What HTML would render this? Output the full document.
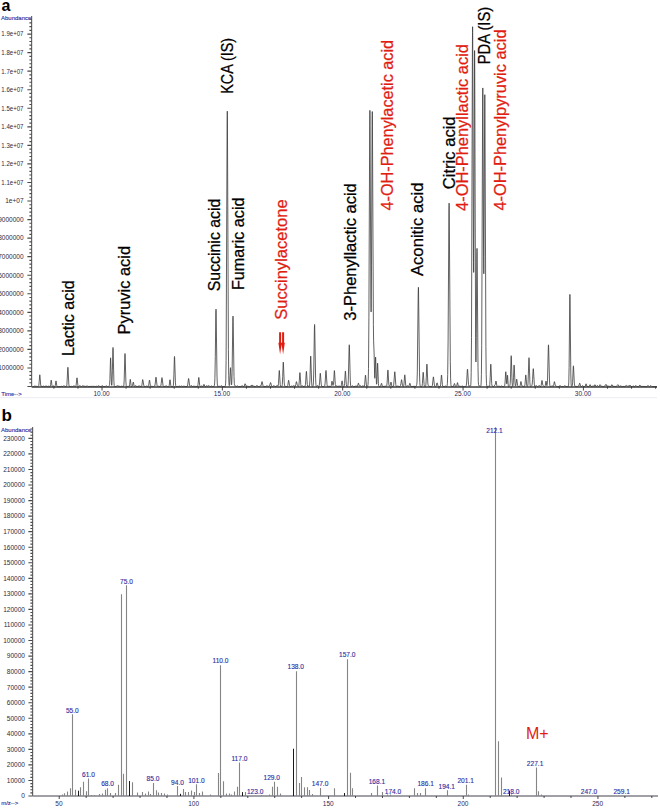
<!DOCTYPE html>
<html><head><meta charset="utf-8">
<style>
html,body{margin:0;padding:0;background:#fff;}
svg{display:block;}
text{font-family:"Liberation Sans", sans-serif;}
.pl{font-weight:bold;font-size:17px;fill:#000;}
.sm{font-size:6px;stroke-width:0.12px;}
.bl{fill:#2c2ca0;stroke:#2c2ca0;}
.tl{font-size:6.5px;fill:#2b2b40;text-anchor:end;}
.tx{font-size:6.5px;fill:#2b2b5a;text-anchor:middle;}
.lb{font-size:16.2px;stroke-width:0.25px;}
.bv{font-size:6.6px;fill:#2c2ca0;stroke:#2c2ca0;stroke-width:0.12px;text-anchor:middle;}
.mp{font-size:16px;fill:#e11d12;}
</style></head>
<body>
<svg width="660" height="808" viewBox="0 0 660 808">
<rect width="660" height="808" fill="#fff"/>
<text class="pl" x="1.5" y="10.8" style="font-size:16px">a</text>
<text class="sm bl" x="1" y="19.8">Abundance</text>
<line x1="31.6" y1="16.0" x2="31.6" y2="386.5" stroke="#666" stroke-width="1.2"/>
<path d="M27.4 386.5H31.6 M29.4 382.79H31.6 M29.4 379.08H31.6 M29.4 375.37H31.6 M29.4 371.66H31.6 M27.4 367.95H31.6 M29.4 364.24H31.6 M29.4 360.53H31.6 M29.4 356.82H31.6 M29.4 353.11H31.6 M27.4 349.4H31.6 M29.4 345.69H31.6 M29.4 341.98H31.6 M29.4 338.27H31.6 M29.4 334.56H31.6 M27.4 330.85H31.6 M29.4 327.14H31.6 M29.4 323.43H31.6 M29.4 319.72H31.6 M29.4 316.01H31.6 M27.4 312.3H31.6 M29.4 308.59H31.6 M29.4 304.88H31.6 M29.4 301.17H31.6 M29.4 297.46H31.6 M27.4 293.75H31.6 M29.4 290.04H31.6 M29.4 286.33H31.6 M29.4 282.62H31.6 M29.4 278.91H31.6 M27.4 275.2H31.6 M29.4 271.49H31.6 M29.4 267.78H31.6 M29.4 264.07H31.6 M29.4 260.36H31.6 M27.4 256.65H31.6 M29.4 252.94H31.6 M29.4 249.23H31.6 M29.4 245.52H31.6 M29.4 241.81H31.6 M27.4 238.1H31.6 M29.4 234.39H31.6 M29.4 230.68H31.6 M29.4 226.97H31.6 M29.4 223.26H31.6 M27.4 219.55H31.6 M29.4 215.84H31.6 M29.4 212.13H31.6 M29.4 208.42H31.6 M29.4 204.71H31.6 M27.4 201H31.6 M29.4 197.29H31.6 M29.4 193.58H31.6 M29.4 189.87H31.6 M29.4 186.16H31.6 M27.4 182.45H31.6 M29.4 178.74H31.6 M29.4 175.03H31.6 M29.4 171.32H31.6 M29.4 167.61H31.6 M27.4 163.9H31.6 M29.4 160.19H31.6 M29.4 156.48H31.6 M29.4 152.77H31.6 M29.4 149.06H31.6 M27.4 145.35H31.6 M29.4 141.64H31.6 M29.4 137.93H31.6 M29.4 134.22H31.6 M29.4 130.51H31.6 M27.4 126.8H31.6 M29.4 123.09H31.6 M29.4 119.38H31.6 M29.4 115.67H31.6 M29.4 111.96H31.6 M27.4 108.25H31.6 M29.4 104.54H31.6 M29.4 100.83H31.6 M29.4 97.12H31.6 M29.4 93.41H31.6 M27.4 89.7H31.6 M29.4 85.99H31.6 M29.4 82.28H31.6 M29.4 78.57H31.6 M29.4 74.86H31.6 M27.4 71.15H31.6 M29.4 67.44H31.6 M29.4 63.73H31.6 M29.4 60.02H31.6 M29.4 56.31H31.6 M27.4 52.6H31.6 M29.4 48.89H31.6 M29.4 45.18H31.6 M29.4 41.47H31.6 M29.4 37.76H31.6 M27.4 34.05H31.6 M29.4 30.34H31.6 M29.4 26.63H31.6 M29.4 22.92H31.6 M29.4 19.21H31.6" stroke="#484848" stroke-width="1.15" fill="none"/>
<text class="tl" x="23.5" y="370.3">1000000</text>
<text class="tl" x="23.5" y="351.75">2000000</text>
<text class="tl" x="23.5" y="333.2">3000000</text>
<text class="tl" x="23.5" y="314.65">4000000</text>
<text class="tl" x="23.5" y="296.1">5000000</text>
<text class="tl" x="23.5" y="277.55">6000000</text>
<text class="tl" x="23.5" y="259">7000000</text>
<text class="tl" x="23.5" y="240.45">8000000</text>
<text class="tl" x="23.5" y="221.9">9000000</text>
<text class="tl" x="23.5" y="203.35">1e+07</text>
<text class="tl" x="23.5" y="184.8" textLength="22.2" lengthAdjust="spacingAndGlyphs">1.1e+07</text>
<text class="tl" x="23.5" y="166.25" textLength="22.2" lengthAdjust="spacingAndGlyphs">1.2e+07</text>
<text class="tl" x="23.5" y="147.7" textLength="22.2" lengthAdjust="spacingAndGlyphs">1.3e+07</text>
<text class="tl" x="23.5" y="129.15" textLength="22.2" lengthAdjust="spacingAndGlyphs">1.4e+07</text>
<text class="tl" x="23.5" y="110.6" textLength="22.2" lengthAdjust="spacingAndGlyphs">1.5e+07</text>
<text class="tl" x="23.5" y="92.05" textLength="22.2" lengthAdjust="spacingAndGlyphs">1.6e+07</text>
<text class="tl" x="23.5" y="73.5" textLength="22.2" lengthAdjust="spacingAndGlyphs">1.7e+07</text>
<text class="tl" x="23.5" y="54.95" textLength="22.2" lengthAdjust="spacingAndGlyphs">1.8e+07</text>
<text class="tl" x="23.5" y="36.4" textLength="22.2" lengthAdjust="spacingAndGlyphs">1.9e+07</text>
<line x1="31.6" y1="387.0" x2="657.0" y2="387.0" stroke="#3c3c3c" stroke-width="1.4"/>
<path d="M53.86 386.5v2.2 M77.93 386.5v2.2 M102 386.5v4.0 M126.07 386.5v2.2 M150.14 386.5v2.2 M174.21 386.5v2.2 M198.28 386.5v2.2 M222.35 386.5v4.0 M246.42 386.5v2.2 M270.49 386.5v2.2 M294.56 386.5v2.2 M318.63 386.5v2.2 M342.7 386.5v4.0 M366.77 386.5v2.2 M390.84 386.5v2.2 M414.91 386.5v2.2 M438.98 386.5v2.2 M463.05 386.5v4.0 M487.12 386.5v2.2 M511.19 386.5v2.2 M535.26 386.5v2.2 M559.33 386.5v2.2 M583.4 386.5v4.0 M607.47 386.5v2.2 M631.54 386.5v2.2 M655.61 386.5v2.2" stroke="#333" stroke-width="0.9" fill="none"/>
<text class="tx" x="101.6" y="396.4">10.00</text>
<text class="tx" x="221.95" y="396.4">15.00</text>
<text class="tx" x="342.3" y="396.4">20.00</text>
<text class="tx" x="462.65" y="396.4">25.00</text>
<text class="tx" x="583" y="396.4">30.00</text>
<text class="sm bl" x="1.2" y="395.8">Time--&gt;</text>
<line x1="0" y1="397.7" x2="657" y2="397.7" stroke="#ececf2" stroke-width="1"/>
<path d="M32.60 386.60 L33.90 386.50 L34.60 386.08 L37.80 386.52 L38.40 386.25 L38.60 385.99 L38.80 385.36 L39.20 381.64 L39.70 375.07 L39.80 374.79 L39.90 375.08 L40.70 384.97 L40.90 385.93 L41.10 386.29 L42.90 386.55 L43.70 385.98 L44.00 386.09 L44.60 386.53 L46.10 385.98 L47.30 386.51 L48.50 386.18 L49.80 386.58 L50.10 386.45 L50.30 386.08 L50.60 384.49 L51.10 380.30 L51.20 380.10 L51.30 380.30 L52.00 385.70 L52.20 386.26 L52.40 386.40 L53.20 385.83 L54.40 386.57 L54.80 386.53 L55.00 386.35 L55.30 385.37 L55.90 381.08 L56.00 380.90 L56.10 381.08 L56.80 385.82 L57.00 386.32 L57.30 386.50 L60.40 386.52 L61.10 386.26 L63.00 386.55 L63.90 385.60 L64.10 385.64 L64.80 386.49 L66.30 386.56 L66.50 386.43 L66.70 386.01 L66.90 384.87 L67.80 367.63 L67.90 367.23 L68.00 367.77 L68.80 384.04 L69.10 386.06 L69.30 386.45 L70.90 386.48 L71.50 386.36 L72.90 386.55 L73.90 385.73 L74.20 385.82 L75.00 386.53 L75.60 386.52 L75.80 386.33 L76.10 385.35 L76.90 378.01 L77.00 377.83 L77.10 378.07 L77.90 385.43 L78.20 386.35 L78.50 386.52 L79.10 386.21 L79.70 385.63 L80.00 385.66 L81.00 386.52 L81.70 386.44 L82.50 385.83 L86.10 386.56 L87.10 385.69 L87.30 385.71 L88.10 386.51 L92.40 386.34 L95.70 386.48 L96.50 386.26 L97.40 386.46 L98.40 385.75 L98.80 385.85 L99.90 386.57 L101.30 386.50 L102.10 385.57 L102.30 385.54 L103.20 386.52 L105.30 386.50 L106.20 385.83 L106.50 385.86 L107.50 386.55 L108.60 386.41 L109.20 385.79 L109.40 385.36 L109.60 384.32 L109.90 379.47 L110.50 358.59 L110.60 357.80 L110.70 358.75 L111.40 382.66 L111.60 385.04 L111.70 385.36 L111.80 385.19 L112.00 383.29 L112.40 370.72 L112.90 348.49 L113.00 347.47 L113.10 348.37 L113.90 381.34 L114.20 385.50 L114.40 386.30 L114.70 386.57 L116.10 386.45 L117.10 385.77 L120.70 386.55 L121.70 386.12 L123.20 386.59 L123.50 386.47 L123.70 386.09 L123.90 384.94 L124.20 379.80 L124.90 354.35 L125.00 353.52 L125.10 354.30 L125.90 381.94 L126.20 385.54 L126.40 386.27 L126.70 386.55 L128.30 386.30 L129.00 386.54 L129.20 386.43 L129.40 386.02 L129.70 384.23 L130.20 379.52 L130.30 379.30 L130.40 379.52 L131.10 385.61 L131.30 386.27 L131.50 386.50 L132.00 386.41 L132.40 385.92 L133.20 382.16 L133.30 382.05 L133.40 382.21 L134.10 385.99 L134.40 386.49 L134.80 386.52 L135.60 385.54 L135.80 385.60 L136.40 386.45 L137.90 386.49 L139.00 385.85 L141.10 386.59 L141.40 386.50 L141.60 386.26 L141.90 385.20 L142.60 379.84 L142.70 379.60 L142.80 379.66 L143.80 385.48 L144.20 386.34 L145.60 386.52 L146.70 386.04 L148.00 386.53 L148.30 386.40 L148.60 385.72 L149.40 380.26 L149.50 380.10 L149.60 380.26 L150.40 385.72 L150.70 386.39 L151.00 386.46 L151.60 386.25 L153.30 386.55 L154.70 385.98 L154.90 385.57 L155.30 382.99 L155.80 377.83 L155.90 377.29 L156.00 377.10 L156.10 377.29 L157.00 385.31 L157.30 386.23 L157.50 386.36 L158.10 386.14 L160.10 386.57 L160.50 386.35 L160.80 385.77 L161.20 383.60 L161.80 378.13 L161.90 377.70 L162.00 377.59 L162.20 378.37 L163.00 385.41 L163.30 386.30 L165.00 386.55 L166.10 385.72 L166.40 385.81 L167.30 386.55 L168.80 386.53 L169.00 386.32 L169.20 385.72 L169.90 379.95 L170.00 379.72 L170.10 379.93 L170.80 385.70 L171.00 386.31 L171.30 386.57 L172.90 386.54 L173.10 386.35 L173.30 385.72 L173.50 384.03 L173.90 374.25 L174.40 357.27 L174.50 356.49 L174.60 357.15 L175.40 382.17 L175.70 385.55 L175.90 386.26 L176.20 386.54 L178.30 386.48 L179.10 386.01 L180.30 386.57 L180.70 386.48 L181.30 385.81 L181.50 385.79 L182.20 386.51 L183.00 386.49 L183.60 386.19 L186.00 386.55 L186.80 386.36 L187.20 386.37 L187.40 386.13 L187.70 385.01 L188.50 378.64 L188.60 378.44 L188.70 378.56 L189.60 385.35 L189.90 386.23 L190.10 386.38 L190.50 386.15 L191.10 385.54 L191.40 385.63 L192.30 386.51 L193.70 386.16 L195.80 386.51 L197.50 386.34 L197.70 386.07 L198.00 384.68 L198.70 377.62 L198.80 377.40 L198.90 377.62 L199.70 385.35 L200.00 386.34 L200.40 386.57 L201.70 385.93 L202.80 386.53 L203.10 386.39 L203.90 384.36 L204.00 384.30 L204.20 384.58 L204.80 386.28 L205.30 386.59 L205.90 386.50 L206.70 385.58 L206.90 385.65 L207.50 386.42 L207.80 386.45 L208.70 385.48 L208.90 385.47 L209.90 386.51 L210.50 386.52 L211.20 385.86 L211.40 385.92 L212.10 386.56 L213.60 386.49 L214.10 386.04 L214.40 385.26 L214.60 383.99 L214.90 378.56 L215.30 356.75 L215.80 314.97 L215.90 310.63 L216.00 309.16 L216.10 310.73 L217.00 376.14 L217.30 383.97 L217.50 385.74 L217.70 386.35 L217.90 386.51 L219.00 386.15 L220.10 386.56 L220.70 386.28 L221.30 385.66 L221.60 385.69 L222.50 386.52 L224.90 386.52 L225.20 386.21 L225.40 385.54 L225.60 383.79 L225.80 379.39 L226.10 360.74 L227.10 128.82 L227.20 115.71 L227.30 111.20 L227.40 115.71 L228.40 349.32 L228.70 375.78 L228.90 382.51 L229.10 385.08 L229.20 385.56 L229.30 385.70 L229.40 385.57 L229.60 384.46 L230.40 368.14 L230.50 367.67 L230.60 368.33 L231.30 383.79 L231.40 384.63 L231.50 384.95 L231.60 384.74 L231.80 382.53 L232.10 372.64 L232.80 321.52 L232.90 317.49 L233.00 316.09 L233.10 317.48 L234.00 376.53 L234.30 383.34 L234.50 384.82 L235.50 386.34 L236.20 386.56 L237.30 385.88 L238.40 386.56 L241.00 386.47 L242.10 385.71 L243.60 386.54 L244.00 386.46 L244.30 386.02 L244.90 383.98 L245.00 383.80 L245.10 383.75 L245.30 384.02 L246.30 386.12 L249.50 386.54 L250.30 386.04 L251.00 386.36 L251.20 386.30 L251.90 384.95 L252.00 384.89 L252.20 385.06 L252.70 385.96 L255.50 386.56 L256.80 385.52 L257.10 385.56 L258.20 386.52 L259.30 386.47 L260.30 385.75 L260.90 385.84 L261.10 385.62 L261.90 381.79 L262.00 381.60 L262.10 381.62 L263.00 385.53 L263.60 386.39 L265.90 386.53 L266.90 385.66 L267.20 385.77 L268.00 386.52 L268.60 386.48 L269.80 385.00 L270.50 382.63 L270.60 382.56 L270.80 382.97 L271.50 386.06 L271.80 386.49 L272.80 386.54 L273.80 385.46 L274.00 385.46 L274.90 386.50 L275.90 386.51 L277.00 385.47 L277.30 385.53 L277.90 386.10 L278.00 386.08 L278.20 385.66 L278.50 383.28 L279.20 370.90 L279.30 370.46 L279.40 370.81 L280.20 384.34 L280.50 386.12 L280.70 386.47 L281.70 386.56 L281.90 386.41 L282.10 385.90 L282.30 384.53 L282.70 376.53 L283.20 362.68 L283.30 362.07 L283.40 362.64 L284.20 382.33 L284.50 384.99 L284.90 386.22 L285.30 386.56 L287.20 386.55 L287.50 386.29 L287.80 385.33 L288.50 380.44 L288.60 380.21 L288.70 380.27 L289.60 385.79 L289.90 386.40 L290.90 386.57 L291.80 385.86 L292.10 385.99 L292.60 386.44 L292.90 386.41 L293.80 385.45 L294.00 385.45 L294.90 386.41 L295.20 386.41 L295.40 386.17 L295.80 384.58 L296.30 381.78 L296.40 381.63 L296.50 381.70 L297.30 384.89 L298.30 386.35 L298.50 386.39 L298.70 386.17 L298.90 385.41 L299.30 380.84 L299.80 372.94 L299.90 372.60 L300.00 372.94 L300.80 384.70 L301.00 385.87 L301.20 386.30 L301.40 386.31 L302.00 385.60 L302.20 385.61 L303.00 386.52 L304.10 386.51 L305.10 385.96 L305.30 385.56 L305.50 384.39 L306.30 371.67 L306.40 371.30 L306.50 371.67 L307.30 384.52 L307.60 386.12 L307.80 386.38 L308.70 386.15 L309.20 386.29 L309.40 386.04 L309.60 385.06 L309.90 380.45 L310.60 356.99 L310.70 356.12 L310.80 356.72 L311.60 382.16 L311.90 385.62 L312.10 386.32 L312.40 386.56 L312.80 386.49 L313.00 386.19 L313.20 385.28 L313.40 382.97 L313.70 374.06 L314.40 329.14 L314.50 325.65 L314.60 324.47 L314.70 325.75 L315.60 378.21 L315.90 384.48 L316.10 385.90 L316.30 386.39 L316.50 386.49 L316.90 386.26 L317.50 385.53 L317.70 385.49 L318.60 386.44 L318.90 386.46 L319.10 386.21 L319.30 385.46 L319.70 381.09 L320.20 373.52 L320.30 373.18 L320.40 373.48 L321.20 384.07 L321.60 385.97 L321.90 386.45 L323.90 386.53 L324.60 385.90 L324.80 385.39 L325.10 383.28 L325.80 371.64 L325.90 370.72 L326.00 370.40 L326.10 370.72 L327.00 384.41 L327.30 386.05 L327.60 386.50 L329.10 386.25 L330.70 386.57 L331.00 386.36 L331.30 385.41 L331.90 381.26 L332.00 381.08 L332.10 381.22 L332.70 384.93 L332.90 385.44 L333.00 385.51 L333.20 385.34 L333.40 384.61 L333.70 381.51 L334.30 370.97 L334.40 370.59 L334.50 370.99 L335.30 384.40 L335.50 385.72 L335.70 386.20 L335.90 386.27 L336.70 385.84 L337.90 386.52 L338.30 386.41 L338.90 385.86 L339.10 385.86 L340.00 386.56 L340.80 386.48 L341.10 386.08 L341.40 384.89 L341.90 381.31 L342.00 380.94 L342.10 380.87 L342.30 381.68 L342.90 385.86 L343.20 386.47 L343.80 386.56 L344.10 386.33 L344.30 385.75 L344.60 383.30 L345.30 371.36 L345.40 370.96 L345.50 371.30 L346.30 384.23 L346.60 386.01 L346.90 386.49 L347.40 386.56 L347.60 386.44 L347.80 386.07 L348.00 385.03 L348.30 380.59 L349.10 347.77 L349.20 345.50 L349.30 344.78 L349.40 345.70 L350.30 381.00 L350.60 385.19 L350.80 386.14 L351.00 386.46 L351.40 386.50 L352.30 385.72 L352.60 385.80 L353.40 386.52 L355.00 386.43 L356.00 385.92 L357.10 386.44 L357.40 386.27 L357.80 385.16 L358.30 383.17 L358.40 383.08 L358.50 383.16 L359.20 385.53 L359.40 385.76 L360.10 385.52 L361.40 386.48 L362.90 385.84 L364.00 386.44 L364.20 386.37 L364.40 386.00 L364.70 384.23 L365.40 375.38 L365.50 375.10 L365.60 375.38 L366.40 385.03 L366.60 385.98 L366.80 386.32 L367.60 386.14 L367.80 385.81 L368.00 384.68 L368.20 381.58 L368.50 368.45 L368.90 317.75 L369.70 125.38 L369.80 114.24 L369.90 110.37 L370.00 114.07 L370.90 299.47 L371.00 308.71 L371.10 311.91 L371.20 308.93 L371.50 265.79 L372.10 126.32 L372.20 115.35 L372.30 111.55 L372.40 115.28 L373.40 324.65 L373.60 340.84 L374.10 352.91 L374.70 377.34 L374.80 378.30 L374.90 377.69 L375.50 357.98 L375.60 357.09 L375.70 358.00 L376.40 382.33 L376.50 383.69 L376.60 384.23 L376.70 384.01 L376.90 381.31 L377.50 363.86 L377.60 363.15 L377.70 363.86 L378.40 383.36 L378.60 385.52 L378.80 386.31 L379.10 386.57 L380.30 386.54 L380.60 386.29 L381.40 383.37 L381.50 383.26 L381.60 383.35 L382.30 386.03 L382.60 386.46 L386.30 386.17 L386.60 385.93 L386.80 385.40 L387.10 382.93 L387.80 370.36 L387.90 369.97 L388.00 370.38 L388.80 384.13 L389.00 385.41 L389.20 385.86 L389.90 385.85 L390.10 385.70 L390.40 384.80 L390.90 382.15 L391.00 382.04 L391.10 382.20 L391.80 385.99 L392.10 386.50 L393.10 386.53 L393.40 386.23 L393.70 385.09 L394.70 372.00 L394.80 371.75 L394.90 372.08 L395.80 384.61 L396.10 386.10 L396.40 386.51 L397.00 386.50 L397.70 386.06 L399.70 386.58 L400.00 386.45 L400.40 385.75 L400.90 383.76 L401.50 379.80 L401.60 379.66 L401.70 379.85 L402.50 385.67 L402.80 386.40 L403.20 386.56 L403.50 386.39 L403.70 385.90 L404.00 383.85 L404.60 375.68 L404.70 374.98 L404.80 374.81 L405.00 376.06 L405.70 385.04 L406.00 386.26 L406.20 386.46 L406.60 386.36 L407.30 385.78 L408.30 386.40 L408.70 386.21 L409.20 385.29 L409.80 383.33 L409.90 383.22 L410.00 383.26 L410.80 386.18 L411.10 386.52 L414.70 386.34 L415.50 386.55 L415.90 386.33 L416.60 385.16 L416.80 384.31 L417.00 382.14 L417.30 372.99 L418.20 293.77 L418.30 289.00 L418.40 287.31 L418.50 288.87 L419.50 372.81 L419.80 382.51 L420.10 385.68 L420.30 386.30 L421.60 386.57 L421.90 386.38 L422.10 385.89 L422.40 383.70 L423.10 372.62 L423.20 372.21 L423.30 372.51 L424.10 384.61 L424.40 386.18 L424.70 386.54 L425.30 386.56 L425.50 386.42 L425.70 385.96 L425.90 384.70 L426.30 377.35 L426.80 364.62 L426.90 364.06 L427.00 364.59 L427.80 382.96 L428.10 385.20 L429.00 386.37 L431.80 386.53 L432.10 386.27 L432.40 385.29 L433.30 377.08 L433.40 376.87 L433.50 377.04 L434.40 385.17 L434.70 386.21 L435.10 386.55 L435.90 386.52 L436.20 386.13 L436.90 383.06 L437.00 382.86 L437.10 382.84 L438.20 386.26 L438.60 386.57 L440.00 386.56 L440.20 386.42 L440.40 386.02 L440.70 384.22 L441.40 375.28 L441.50 374.98 L441.60 375.23 L442.40 384.79 L442.70 386.09 L443.10 386.50 L444.70 386.48 L445.50 386.06 L446.60 386.51 L446.80 386.46 L447.00 386.19 L447.20 385.38 L447.40 383.29 L447.70 374.55 L448.10 340.87 L448.90 213.11 L449.00 205.73 L449.10 203.20 L449.20 205.72 L450.30 361.31 L450.60 378.17 L450.90 384.40 L451.10 385.83 L451.30 386.36 L453.10 386.55 L453.50 386.23 L454.40 383.50 L454.50 383.47 L454.70 383.90 L455.30 386.19 L455.60 386.50 L456.50 386.18 L456.80 385.58 L457.40 382.71 L457.50 382.59 L457.60 382.72 L458.30 385.98 L458.50 386.27 L459.50 386.12 L461.20 386.57 L462.20 385.90 L463.20 386.57 L465.90 386.42 L466.10 386.20 L466.30 385.54 L466.60 382.98 L467.30 370.34 L467.40 369.42 L467.50 369.14 L467.60 369.56 L468.50 384.27 L468.80 385.90 L469.00 386.19 L470.00 385.94 L470.40 386.04 L470.60 385.81 L470.80 384.71 L471.00 381.24 L471.20 372.38 L471.50 337.65 L472.40 49.54 L472.50 32.53 L472.60 26.71 L472.70 32.60 L473.50 262.61 L473.60 272.42 L473.70 271.60 L473.90 238.70 L474.50 56.79 L474.60 50.56 L474.70 57.39 L475.60 337.43 L475.80 359.02 L475.90 361.98 L476.00 360.45 L476.30 333.31 L476.80 258.96 L476.90 251.10 L477.00 248.38 L477.10 251.13 L478.00 367.78 L478.30 381.60 L478.50 384.61 L478.70 385.54 L478.90 385.71 L479.40 385.77 L480.40 386.46 L480.60 386.44 L480.80 386.15 L481.00 385.11 L481.20 382.11 L481.40 374.63 L481.70 345.67 L482.60 107.06 L482.70 92.90 L482.80 87.95 L482.90 92.59 L483.60 256.23 L483.70 269.09 L483.80 273.76 L483.90 269.89 L484.70 99.11 L484.80 94.69 L484.90 99.66 L485.90 346.62 L486.20 374.58 L486.50 383.73 L486.70 385.60 L486.90 386.28 L487.20 386.55 L488.40 386.29 L489.20 386.54 L489.40 386.42 L489.60 385.96 L489.80 384.70 L490.20 377.35 L490.70 364.65 L490.80 364.10 L490.90 364.65 L491.70 383.50 L491.90 385.33 L492.10 385.99 L493.40 386.51 L495.00 385.18 L495.30 384.29 L495.90 381.09 L496.00 381.00 L496.20 381.57 L496.90 385.85 L497.20 386.44 L497.90 386.55 L498.80 386.12 L500.70 386.57 L501.60 385.95 L502.80 386.59 L504.10 386.44 L504.40 386.20 L504.70 385.45 L505.00 383.11 L505.70 372.03 L505.80 371.72 L505.90 372.12 L506.60 383.14 L506.70 383.76 L506.80 383.79 L507.00 382.03 L507.40 375.53 L507.50 375.09 L507.60 375.55 L508.20 385.04 L508.40 386.18 L508.60 386.51 L509.10 386.49 L509.70 385.82 L510.00 384.99 L510.20 383.40 L510.50 377.12 L511.10 356.44 L511.20 355.69 L511.30 356.45 L512.10 382.42 L512.40 385.70 L512.60 386.27 L512.70 386.31 L512.90 385.96 L513.10 384.78 L513.50 377.75 L514.00 365.53 L514.10 364.96 L514.20 365.43 L515.00 383.22 L515.30 385.66 L515.50 386.07 L515.60 386.05 L515.80 385.55 L516.60 379.34 L516.70 379.13 L516.80 379.29 L517.60 385.53 L517.90 386.36 L519.40 386.54 L519.90 386.21 L520.20 385.53 L520.90 381.56 L521.00 381.46 L521.20 382.11 L521.70 385.40 L521.90 385.96 L524.20 386.58 L524.50 386.42 L524.70 386.00 L525.00 384.15 L525.70 375.16 L525.80 374.92 L525.90 375.24 L526.70 385.04 L527.00 386.26 L527.20 386.48 L527.40 386.48 L527.60 386.27 L527.80 385.59 L528.00 383.88 L528.90 358.32 L529.00 357.67 L529.10 358.42 L529.90 382.71 L530.20 385.78 L530.40 386.37 L530.70 386.54 L531.30 386.25 L531.90 385.33 L532.20 384.11 L532.60 379.37 L533.10 369.97 L533.20 368.98 L533.30 368.65 L533.40 369.03 L534.30 384.18 L534.60 385.99 L534.80 386.39 L535.10 386.51 L535.60 386.13 L536.10 385.54 L536.30 385.56 L537.20 386.52 L538.20 386.54 L538.60 386.18 L539.10 385.43 L539.30 385.49 L540.00 386.49 L540.60 386.55 L540.90 386.29 L541.20 385.32 L541.90 380.55 L542.00 380.40 L542.10 380.55 L542.80 385.04 L543.00 385.52 L543.50 385.82 L544.10 386.51 L544.80 386.54 L545.00 386.36 L545.30 385.41 L545.90 381.27 L546.00 381.10 L546.10 381.27 L546.70 385.26 L546.80 385.59 L546.90 385.72 L547.00 385.62 L547.20 384.64 L547.50 380.13 L548.30 347.76 L548.40 345.53 L548.50 344.84 L548.60 345.77 L549.50 381.01 L549.80 385.19 L550.00 386.14 L550.20 386.47 L551.10 386.55 L552.00 385.59 L552.20 385.67 L552.80 386.45 L553.10 386.50 L553.30 386.35 L553.60 385.59 L554.30 381.77 L554.40 381.63 L554.50 381.72 L555.30 385.33 L556.80 386.53 L558.90 386.52 L559.90 385.61 L560.10 385.59 L561.20 386.54 L563.60 386.50 L564.60 385.73 L564.90 385.78 L566.00 386.56 L567.70 386.43 L568.20 386.50 L568.40 386.24 L568.60 385.18 L568.80 381.96 L569.10 367.64 L569.80 296.70 L569.90 294.42 L570.00 296.63 L570.80 373.89 L571.10 383.81 L571.30 385.77 L571.50 386.38 L571.70 386.53 L571.90 386.50 L572.10 386.28 L572.30 385.56 L572.60 382.37 L573.30 366.40 L573.40 365.82 L573.50 366.24 L574.30 383.03 L574.60 385.46 L574.90 386.24 L577.40 386.55 L578.20 385.90 L578.60 386.07 L578.80 385.97 L579.60 383.19 L579.70 383.10 L579.80 383.19 L580.60 386.13 L580.90 386.50 L581.60 386.49 L582.50 385.67 L582.80 385.74 L583.70 386.54 L584.90 386.55 L585.20 386.31 L586.00 383.85 L586.10 383.83 L586.90 386.31 L588.90 386.56 L589.20 386.37 L590.00 384.65 L590.10 384.63 L591.00 386.40 L592.20 386.56 L593.10 385.70 L593.30 385.70 L593.90 386.36 L594.10 386.37 L594.40 385.97 L594.90 384.76 L595.00 384.70 L595.20 384.92 L595.80 386.34 L596.10 386.53 L596.50 386.42 L597.30 385.46 L597.50 385.44 L598.50 386.51 L599.00 386.52 L599.30 386.22 L599.90 384.75 L600.10 384.59 L601.30 386.34 L603.80 386.51 L605.30 385.56 L605.90 384.36 L606.00 384.32 L606.20 384.60 L606.70 385.90 L610.30 386.54 L611.10 386.01 L611.80 384.78 L611.90 384.70 L612.00 384.70 L612.80 386.26 L616.20 386.53 L617.20 385.56 L617.80 384.63 L617.90 384.61 L618.10 384.80 L618.80 386.37 L619.20 386.53 L620.20 385.89 L622.40 386.57 L624.00 386.33 L624.90 386.49 L626.20 385.43 L626.60 385.61 L627.30 386.24 L628.40 385.95 L629.10 386.25 L629.40 386.02 L629.90 385.14 L630.00 385.09 L630.20 385.27 L630.80 386.40 L632.30 386.54 L633.20 385.95 L634.40 386.59 L635.00 386.47 L635.70 385.52 L635.90 385.47 L636.70 386.48 L638.80 386.49 L639.30 386.03 L639.80 385.14 L640.00 385.07 L640.80 386.41 L646.80 386.51 L647.90 385.52 L648.20 385.62 L649.10 386.49 L649.60 386.50 L650.60 385.51 L650.80 385.55 L651.70 386.49 L656.90 386.60" stroke="#3a3a3a" stroke-width="0.8" fill="none" stroke-linejoin="round"/>
<text class="lb" transform="translate(73.5 356.1) rotate(-90)" textLength="75.9" lengthAdjust="spacingAndGlyphs" fill="#000" stroke="#000">Lactic acid</text>
<text class="lb" transform="translate(130.2 334.4) rotate(-90)" textLength="88.4" lengthAdjust="spacingAndGlyphs" fill="#000" stroke="#000">Pyruvic acid</text>
<text class="lb" transform="translate(220.1 291.2) rotate(-90)" textLength="92.5" lengthAdjust="spacingAndGlyphs" fill="#000" stroke="#000">Succinic acid</text>
<text class="lb" transform="translate(243.5 290) rotate(-90)" textLength="92.5" lengthAdjust="spacingAndGlyphs" fill="#000" stroke="#000">Fumaric acid</text>
<text class="lb" transform="translate(232.8 93.8) rotate(-90)" textLength="55.8" lengthAdjust="spacingAndGlyphs" fill="#000" stroke="#000">KCA (IS)</text>
<text class="lb" transform="translate(287.2 319.8) rotate(-90)" textLength="120.5" lengthAdjust="spacingAndGlyphs" fill="#e11d12" stroke="#e11d12">Succinylacetone</text>
<text class="lb" transform="translate(356.4 320.7) rotate(-90)" textLength="137.5" lengthAdjust="spacingAndGlyphs" fill="#000" stroke="#000">3-Phenyllactic acid</text>
<text class="lb" transform="translate(392.9 210.5) rotate(-90)" textLength="170.6" lengthAdjust="spacingAndGlyphs" fill="#e11d12" stroke="#e11d12">4-OH-Phenylacetic acid</text>
<text class="lb" transform="translate(423.2 276.1) rotate(-90)" textLength="93.6" lengthAdjust="spacingAndGlyphs" fill="#000" stroke="#000">Aconitic acid</text>
<text class="lb" transform="translate(454.5 189.2) rotate(-90)" textLength="72.8" lengthAdjust="spacingAndGlyphs" fill="#000" stroke="#000">Citric acid</text>
<text class="lb" transform="translate(468 210.9) rotate(-90)" textLength="166.8" lengthAdjust="spacingAndGlyphs" fill="#e11d12" stroke="#e11d12">4-OH-Phenyllactic acid</text>
<text class="lb" transform="translate(489.7 64.3) rotate(-90)" textLength="57.6" lengthAdjust="spacingAndGlyphs" fill="#000" stroke="#000">PDA (IS)</text>
<text class="lb" transform="translate(505.7 210.6) rotate(-90)" textLength="181.1" lengthAdjust="spacingAndGlyphs" fill="#e11d12" stroke="#e11d12">4-OH-Phenylpyruvic acid</text>
<path d="M279.1 332.2 H281.1 V342.6 L281.8 342.9 L280.1 354.2 L278.4 342.9 L279.1 342.6 Z M282.1 332.2 H284.1 V342.6 L284.8 342.9 L283.1 354.2 L281.4 342.9 L282.1 342.6 Z" fill="#e11d12"/>
<text class="pl" x="1.5" y="421.4">b</text>
<text class="sm bl" x="1" y="432.3">Abundance</text>
<line x1="32.6" y1="427.0" x2="32.6" y2="796.0" stroke="#666" stroke-width="1.2"/>
<path d="M28.4 796H32.6 M30.4 792.89H32.6 M30.4 789.78H32.6 M30.4 786.67H32.6 M30.4 783.56H32.6 M28.4 780.45H32.6 M30.4 777.34H32.6 M30.4 774.23H32.6 M30.4 771.12H32.6 M30.4 768.01H32.6 M28.4 764.9H32.6 M30.4 761.79H32.6 M30.4 758.68H32.6 M30.4 755.57H32.6 M30.4 752.46H32.6 M28.4 749.35H32.6 M30.4 746.24H32.6 M30.4 743.13H32.6 M30.4 740.02H32.6 M30.4 736.91H32.6 M28.4 733.8H32.6 M30.4 730.69H32.6 M30.4 727.58H32.6 M30.4 724.47H32.6 M30.4 721.36H32.6 M28.4 718.25H32.6 M30.4 715.14H32.6 M30.4 712.03H32.6 M30.4 708.92H32.6 M30.4 705.81H32.6 M28.4 702.7H32.6 M30.4 699.59H32.6 M30.4 696.48H32.6 M30.4 693.37H32.6 M30.4 690.26H32.6 M28.4 687.15H32.6 M30.4 684.04H32.6 M30.4 680.93H32.6 M30.4 677.82H32.6 M30.4 674.71H32.6 M28.4 671.6H32.6 M30.4 668.49H32.6 M30.4 665.38H32.6 M30.4 662.27H32.6 M30.4 659.16H32.6 M28.4 656.05H32.6 M30.4 652.94H32.6 M30.4 649.83H32.6 M30.4 646.72H32.6 M30.4 643.61H32.6 M28.4 640.5H32.6 M30.4 637.39H32.6 M30.4 634.28H32.6 M30.4 631.17H32.6 M30.4 628.06H32.6 M28.4 624.95H32.6 M30.4 621.84H32.6 M30.4 618.73H32.6 M30.4 615.62H32.6 M30.4 612.51H32.6 M28.4 609.4H32.6 M30.4 606.29H32.6 M30.4 603.18H32.6 M30.4 600.07H32.6 M30.4 596.96H32.6 M28.4 593.85H32.6 M30.4 590.74H32.6 M30.4 587.63H32.6 M30.4 584.52H32.6 M30.4 581.41H32.6 M28.4 578.3H32.6 M30.4 575.19H32.6 M30.4 572.08H32.6 M30.4 568.97H32.6 M30.4 565.86H32.6 M28.4 562.75H32.6 M30.4 559.64H32.6 M30.4 556.53H32.6 M30.4 553.42H32.6 M30.4 550.31H32.6 M28.4 547.2H32.6 M30.4 544.09H32.6 M30.4 540.98H32.6 M30.4 537.87H32.6 M30.4 534.76H32.6 M28.4 531.65H32.6 M30.4 528.54H32.6 M30.4 525.43H32.6 M30.4 522.32H32.6 M30.4 519.21H32.6 M28.4 516.1H32.6 M30.4 512.99H32.6 M30.4 509.88H32.6 M30.4 506.77H32.6 M30.4 503.66H32.6 M28.4 500.55H32.6 M30.4 497.44H32.6 M30.4 494.33H32.6 M30.4 491.22H32.6 M30.4 488.11H32.6 M28.4 485H32.6 M30.4 481.89H32.6 M30.4 478.78H32.6 M30.4 475.67H32.6 M30.4 472.56H32.6 M28.4 469.45H32.6 M30.4 466.34H32.6 M30.4 463.23H32.6 M30.4 460.12H32.6 M30.4 457.01H32.6 M28.4 453.9H32.6 M30.4 450.79H32.6 M30.4 447.68H32.6 M30.4 444.57H32.6 M30.4 441.46H32.6 M28.4 438.35H32.6 M30.4 435.24H32.6 M30.4 432.13H32.6 M30.4 429.02H32.6" stroke="#484848" stroke-width="1.15" fill="none"/>
<text class="tl" x="24.9" y="798.35">0</text>
<text class="tl" x="24.9" y="782.8">10000</text>
<text class="tl" x="24.9" y="767.25">20000</text>
<text class="tl" x="24.9" y="751.7">30000</text>
<text class="tl" x="24.9" y="736.15">40000</text>
<text class="tl" x="24.9" y="720.6">50000</text>
<text class="tl" x="24.9" y="705.05">60000</text>
<text class="tl" x="24.9" y="689.5">70000</text>
<text class="tl" x="24.9" y="673.95">80000</text>
<text class="tl" x="24.9" y="658.4">90000</text>
<text class="tl" x="24.9" y="642.85">100000</text>
<text class="tl" x="24.9" y="627.3">110000</text>
<text class="tl" x="24.9" y="611.75">120000</text>
<text class="tl" x="24.9" y="596.2">130000</text>
<text class="tl" x="24.9" y="580.65">140000</text>
<text class="tl" x="24.9" y="565.1">150000</text>
<text class="tl" x="24.9" y="549.55">160000</text>
<text class="tl" x="24.9" y="534">170000</text>
<text class="tl" x="24.9" y="518.45">180000</text>
<text class="tl" x="24.9" y="502.9">190000</text>
<text class="tl" x="24.9" y="487.35">200000</text>
<text class="tl" x="24.9" y="471.8">210000</text>
<text class="tl" x="24.9" y="456.25">220000</text>
<text class="tl" x="24.9" y="440.7">230000</text>
<line x1="32.6" y1="796.0" x2="658.0" y2="796.0" stroke="#808088" stroke-width="1.6"/>
<path d="M59.23 796v3.0 M86.17 796v2.0 M113.1 796v2.0 M140.04 796v2.0 M166.97 796v2.0 M193.91 796v3.0 M220.85 796v2.0 M247.78 796v2.0 M274.72 796v2.0 M301.65 796v2.0 M328.59 796v3.0 M355.53 796v2.0 M382.46 796v2.0 M409.4 796v2.0 M436.33 796v2.0 M463.27 796v3.0 M490.21 796v2.0 M517.14 796v2.0 M544.08 796v2.0 M571.01 796v2.0 M597.95 796v3.0 M624.89 796v2.0 M651.82 796v2.0" stroke="#333" stroke-width="0.9" fill="none"/>
<text class="tx" x="58.93" y="805.5">50</text>
<text class="tx" x="193.61" y="805.5">100</text>
<text class="tx" x="328.29" y="805.5">150</text>
<text class="tx" x="462.97" y="805.5">200</text>
<text class="tx" x="597.65" y="805.5">250</text>
<text class="sm bl" x="1.2" y="805.4">m/z--&gt;</text>
<path d="M62.5 796V794.5 M64.5 796V793.3 M67.5 796V791.5 M70.5 796V788.2 M72.5 796V714.3 M75.5 796V789.7 M80.5 796V787.3 M83.5 796V781.8 M86.5 796V791.2 M88.5 796V778.5 M91.5 796V795 M94.5 796V795 M99.5 796V794 M102.5 796V793.5 M105.5 796V789.7 M107.5 796V788.2 M110.5 796V793 M115.5 796V793 M118.5 796V784.8 M121.5 796V594.2 M123.5 796V773.7 M126.5 796V585.2 M132.5 796V782.2 M137.5 796V792.4 M142.5 796V792.1 M145.5 796V793.5 M148.5 796V791.5 M150.5 796V794 M153.5 796V783 M156.5 796V790.3 M158.5 796V792.5 M161.5 796V793 M164.5 796V793.5 M167.5 796V794.5 M177.5 796V786.1 M183.5 796V789.1 M185.5 796V792 M188.5 796V792 M191.5 796V790.5 M194.5 796V792 M196.5 796V784.2 M199.5 796V793 M202.5 796V791.5 M210.5 796V794.5 M218.5 796V773 M220.5 796V665.2 M223.5 796V781.2 M226.5 796V793.5 M229.5 796V793.5 M231.5 796V794.5 M234.5 796V791.5 M237.5 796V786.7 M239.5 796V762.4 M245.5 796V792 M261.5 796V795 M269.5 796V794.5 M272.5 796V786.7 M274.5 796V781.8 M277.5 796V786.7 M280.5 796V793.5 M296.5 796V671.3 M299.5 796V783 M301.5 796V777 M304.5 796V787.3 M307.5 796V787.3 M309.5 796V790 M312.5 796V794 M320.5 796V787.9 M334.5 796V788.2 M347.5 796V659.2 M350.5 796V772.7 M352.5 796V788.2 M371.5 796V793 M377.5 796V785.5 M382.5 796V792 M387.5 796V794.5 M390.5 796V794.5 M414.5 796V788.2 M417.5 796V793 M420.5 796V793 M425.5 796V788.2 M447.5 796V790.3 M466.5 796V784.8 M468.5 796V794.5 M495.5 796V427.3 M498.5 796V741.2 M501.5 796V777.5 M511.5 796V794.5 M536.5 796V767.6 M538.5 796V791.2 M541.5 796V794.5" stroke="#858585" stroke-width="1.1" fill="none"/>
<path d="M78.5 796V790.7 M129.5 796V781 M180.5 796V793.8 M242.5 796V792.1 M293.5 796V748.7 M344.5 796V793 M509.5 796V790.6" stroke="#1a1a1a" stroke-width="1" fill="none"/>
<text class="bv" x="72.3" y="712.8">55.0</text>
<text class="bv" x="88.5" y="776.8">61.0</text>
<text class="bv" x="107.6" y="786.2">68.0</text>
<text class="bv" x="126.5" y="583.7">75.0</text>
<text class="bv" x="153" y="781.1">85.0</text>
<text class="bv" x="177.5" y="784.5">94.0</text>
<text class="bv" x="196.4" y="782.5">101.0</text>
<text class="bv" x="220.5" y="662.9">110.0</text>
<text class="bv" x="239.4" y="760.5">117.0</text>
<text class="bv" x="255.2" y="793.8">123.0</text>
<text class="bv" x="271.8" y="780.1">129.0</text>
<text class="bv" x="295.8" y="669.2">138.0</text>
<text class="bv" x="320.1" y="785.7">147.0</text>
<text class="bv" x="347.3" y="657.1">157.0</text>
<text class="bv" x="376.9" y="784.1">168.1</text>
<text class="bv" x="393" y="793.8">174.0</text>
<text class="bv" x="425.7" y="786.2">186.1</text>
<text class="bv" x="446.8" y="789">194.1</text>
<text class="bv" x="465.7" y="783.3">201.1</text>
<text class="bv" x="494.5" y="432.9">212.1</text>
<text class="bv" x="511.2" y="793.9">218.0</text>
<text class="bv" x="535.1" y="765.6">227.1</text>
<text class="bv" x="589" y="793.8">247.0</text>
<text class="bv" x="621.7" y="793.8">259.1</text>
<text class="mp" x="526" y="738.9">M+</text>
</svg>
</body></html>
